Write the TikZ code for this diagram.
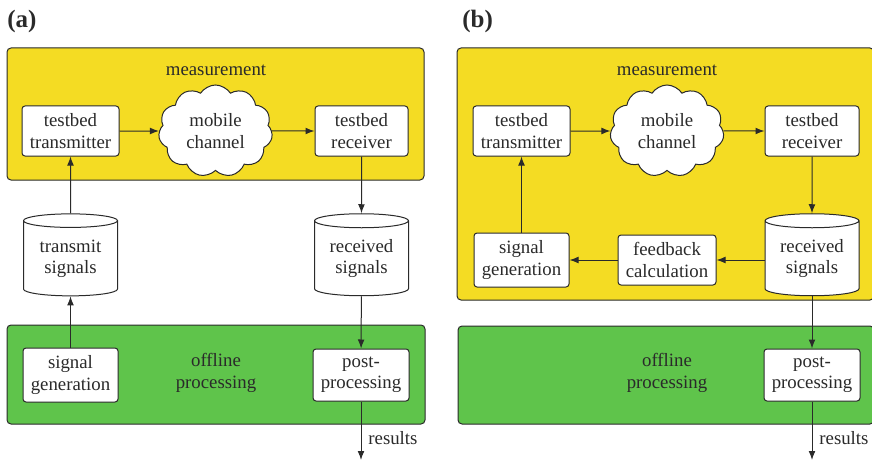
\documentclass[tikz,border=0pt]{standalone}
\usepackage{fontspec}
\setmainfont{Liberation Serif}
\usetikzlibrary{arrows.meta,shapes.geometric,shapes.symbols}

\definecolor{measyellow}{HTML}{F4DC23}
\definecolor{offgreen}{HTML}{5FC44B}
\definecolor{edgegray}{HTML}{2A2A2A}

\begin{document}
\begin{tikzpicture}[x=0.5pt, y=-0.5pt,
    font=\fontsize{9.4}{10.6}\selectfont, text=edgegray,
    stage/.style={draw=edgegray, line width=0.5pt, rounded corners=2pt, fill=#1, inner sep=0pt},
    block/.style={draw=edgegray, line width=0.5pt, rounded corners=1.5pt, fill=white,
                  align=center, inner sep=0pt, minimum width=#1, minimum height=25pt},
    store/.style={cylinder, shape border rotate=90, aspect=0.22, draw=edgegray, line width=0.5pt,
                  fill=white, align=center, inner sep=0pt, minimum width=47pt, minimum height=41pt},
    channel/.style={cloud, cloud puffs=11, cloud puff arc=115, aspect=1.25, draw=edgegray,
                    line width=0.5pt, fill=white, align=center, inner sep=0pt,
                    minimum width=57pt, minimum height=46pt},
    panel/.style={font=\fontsize{12.5}{14}\selectfont\bfseries, anchor=west, inner sep=0pt},
    caption/.style={align=center},
    flow/.style={-{Latex[length=4.5pt,width=3.4pt]}, line width=0.5pt, draw=edgegray}
]
\useasboundingbox (0,0) rectangle (872,460);

%% (a) offline signal generation
\node[panel] (lblA) at (7,21) {(a)};
\node[stage=measyellow, minimum width=208.5pt, minimum height=66pt] (measA) at (215.5,114) {};
\node[caption] (measTxtA) at (216,70) {measurement};
\node[block=48.5pt] (txA) at (70.5,131) {testbed\\transmitter};
\node[channel] (chA) at (215.5,131) {mobile\\channel};
\node[block=46.5pt] (rxA) at (361.5,131) {testbed\\receiver};
\node[store] (tsA) at (70.5,258.5) {transmit\\signals};
\node[store] (rsA) at (361.5,258.5) {received\\signals};
\node[stage=offgreen, minimum width=209pt, minimum height=49.5pt] (offA) at (216,374.5) {};
\node[caption] (offTxtA) at (216,373) {offline\\processing};
\node[block=47.5pt, minimum height=27pt] (sgA) at (70.5,375) {signal\\generation};
\node[block=48pt, minimum height=26pt] (ppA) at (361,375) {post-\\processing};
\coordinate (outA) at (361,460);
\node[anchor=west, inner sep=0pt] (resA) at (368,438) {results};

\draw[flow] (txA) -- (chA);
\draw[flow] (chA) -- (rxA);
\draw[flow] (sgA) -- (tsA);
\draw[flow] (tsA) -- (txA);
\draw[flow] (rxA) -- (rsA);
\draw[flow] (rsA) -- (ppA);
\draw[flow] (ppA) -- (outA);

%% (b) with feedback
\node[panel] (lblB) at (462,21) {(b)};
\node[stage=measyellow, minimum width=208.5pt, minimum height=126pt] (measB) at (665.5,174) {};
\node[caption] (measTxtB) at (667,70) {measurement};
\node[block=48.5pt] (txB) at (521.5,131) {testbed\\transmitter};
\node[channel] (chB) at (667,131) {mobile\\channel};
\node[block=47pt] (rxB) at (812,131) {testbed\\receiver};
\node[store] (rsB) at (812,258.5) {received\\signals};
\node[block=49pt] (fbB) at (667,260) {feedback\\calculation};
\node[block=47.5pt, minimum height=27pt] (sgB) at (521.5,260) {signal\\generation};
\node[stage=offgreen, minimum width=208pt, minimum height=49pt] (offB) at (666,375) {};
\node[caption] (offTxtB) at (667,373) {offline\\processing};
\node[block=48pt, minimum height=26pt] (ppB) at (812,375) {post-\\processing};
\coordinate (outB) at (812,460);
\node[anchor=west, inner sep=0pt] (resB) at (819,438) {results};

\draw[flow] (txB) -- (chB);
\draw[flow] (chB) -- (rxB);
\draw[flow] (rxB) -- (rsB);
\draw[flow] (rsB.west |- fbB) -- (fbB);
\draw[flow] (fbB) -- (sgB);
\draw[flow] (sgB) -- (txB);
\draw[flow] (rsB) -- (ppB);
\draw[flow] (ppB) -- (outB);
\end{tikzpicture}
\end{document}
